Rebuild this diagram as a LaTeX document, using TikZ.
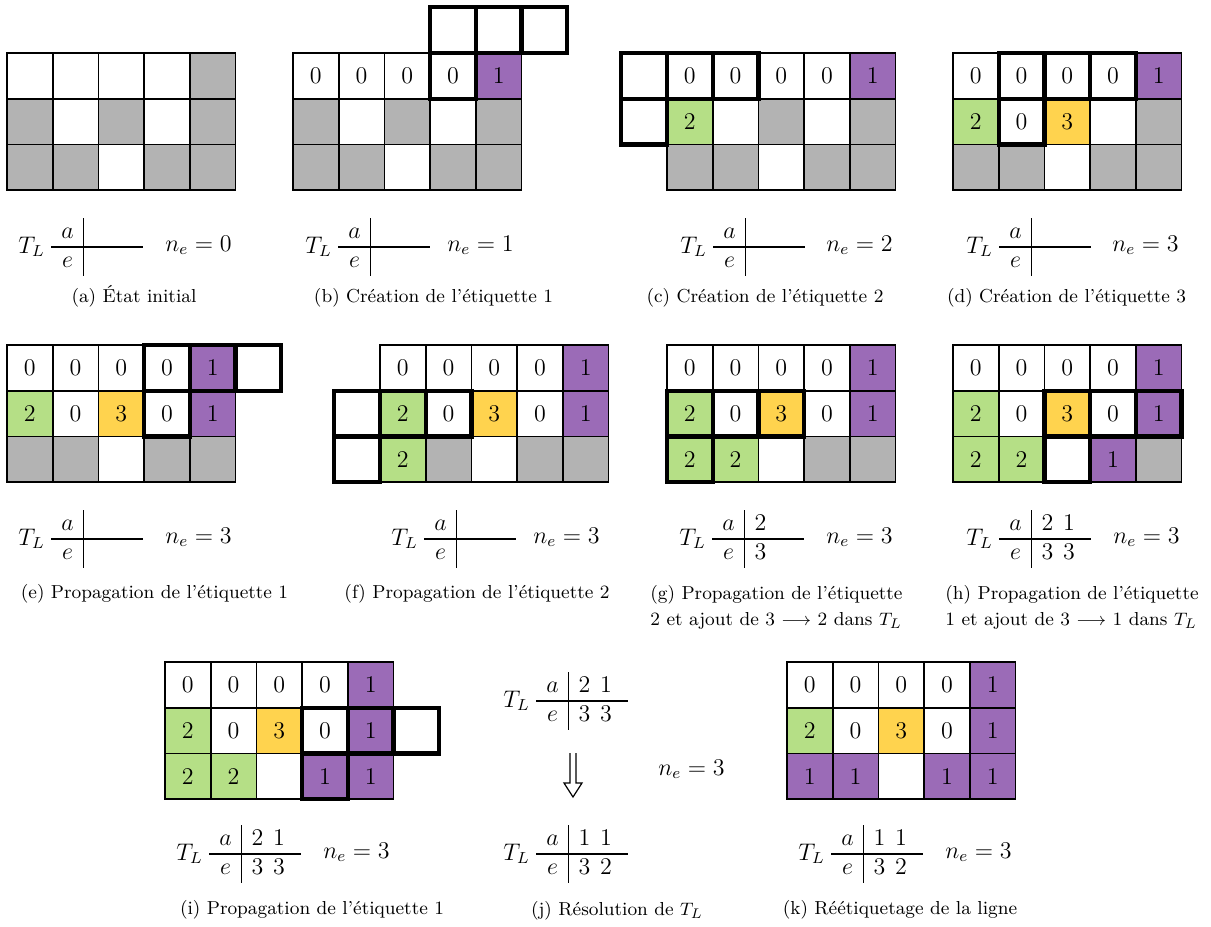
\documentclass[tikz,border=0pt]{standalone}
\usepackage{fontspec}
\usepackage{amsmath}
\usepackage{tikz}
\usetikzlibrary{calc,positioning}
\definecolor{cw}{HTML}{FFFFFF}
\definecolor{cg}{HTML}{B3B3B3}
\definecolor{cv}{HTML}{9B6BB7}
\definecolor{ce}{HTML}{B5DF86}
\definecolor{cj}{HTML}{FFD34E}
\setlength{\arrayrulewidth}{0.6pt}

% une grille : nom, origine (coin haut gauche), lignes de cases (couleur + valeur)
\newcommand{\pas}{45.7}
\def\lirecase#1#2\relax{\def\coul{#1}\def\val{#2}}
\newcommand{\grille}[4]{%
  \gdef\ox{#2}\gdef\oy{#3}%
  \foreach \ligne [count=\nl] in {#4}{%
    \foreach \tok [count=\nc] in \ligne {%
      \expandafter\lirecase\tok\relax
      \node[case,fill=c\coul] (#1-\nl-\nc) at ({\ox+(\nc-0.5)*\pas},{\oy+(\nl-0.5)*\pas}) {\val};
    }%
  }%
}
\newcommand{\ajout}[3]{\node[case] (#1-#2-#3) at ({\ox+(#3-0.5)*\pas},{\oy+(#2-0.5)*\pas}) {};}
\newcommand{\voisin}[3]{\draw[epais] (#1-#2-#3.north west) rectangle (#1-#2-#3.south east);}
\newcommand{\droite}[1]{\makebox[19.5pt][l]{$#1$}}
\newcommand{\sep}{\hspace{4.8pt}}
\newcommand{\tablel}[5]{%
  \node[tl] (#1) at (#2-66,#3) {$T_L\;\begin{array}{c|l} a & \droite{#4}\\ \hline e & \droite{#5}\end{array}$};%
}

\begin{document}
\begin{tikzpicture}[x=0.5pt,y=-0.5pt,
  case/.style={draw,line width=0.9pt,minimum size=22.85pt,inner sep=0pt,outer sep=0pt,font=\large},
  epais/.style={line width=2.1pt},
  tl/.style={anchor=west,inner sep=0pt,font=\large},
  ne/.style={anchor=base west,inner sep=0pt,font=\large},
  legende/.style={anchor=base,inner sep=0pt,font=\fontsize{9.4}{12}\selectfont},
  fleche/.style={line width=0.6pt},
]
\useasboundingbox (0,0) rectangle (1211,927);

% (a)
\grille{a}{7}{53}{{w,w,w,w,g},{g,w,g,w,g},{g,g,w,g,g}}
\tablel{a-tl}{84}{247}{}{}
\node[ne] (a-ne) at (165,251) {$n_e = 0$};
\node[legende] (a-leg) at (134,302) {(a) État initial};

% (b)
\grille{b}{293}{53}{{w0,w0,w0,w0,v1},{g,w,g,w,g},{g,g,w,g,g}}
\ajout{b}{0}{4} \ajout{b}{0}{5} \ajout{b}{0}{6}
\foreach \i/\j in {0/4,0/5,0/6,1/4} {\voisin{b}{\i}{\j}}
\tablel{b-tl}{371}{247}{}{}
\node[ne] (b-ne) at (447,251) {$n_e = 1$};
\node[legende] (b-leg) at (433.5,302) {(b) Création de l’étiquette 1};

% (c)
\grille{c}{667}{53}{{w0,w0,w0,w0,v1},{e2,w,g,w,g},{g,g,w,g,g}}
\ajout{c}{1}{0} \ajout{c}{2}{0}
\foreach \i/\j in {1/0,1/1,1/2,2/0} {\voisin{c}{\i}{\j}}
\tablel{c-tl}{746}{247}{}{}
\node[ne] (c-ne) at (826,251) {$n_e = 2$};
\node[legende] (c-leg) at (765,302) {(c) Création de l’étiquette 2};

% (d)
\grille{d}{953}{53}{{w0,w0,w0,w0,v1},{e2,w0,j3,w,g},{g,g,w,g,g}}
\foreach \i/\j in {1/2,1/3,1/4,2/2} {\voisin{d}{\i}{\j}}
\tablel{d-tl}{1032}{247}{}{}
\node[ne] (d-ne) at (1112,251) {$n_e = 3$};
\node[legende] (d-leg) at (1066.5,302) {(d) Création de l’étiquette 3};

% (e)
\grille{e}{7}{345}{{w0,w0,w0,w0,v1},{e2,w0,j3,w0,v1},{g,g,w,g,g}}
\ajout{e}{1}{6}
\foreach \i/\j in {1/4,1/5,1/6,2/4} {\voisin{e}{\i}{\j}}
\tablel{e-tl}{84}{539}{}{}
\node[ne] (e-ne) at (165,543) {$n_e = 3$};
\node[legende] (e-leg) at (154.5,598) {(e) Propagation de l’étiquette 1};

% (f)
\grille{f}{380}{345}{{w0,w0,w0,w0,v1},{e2,w0,j3,w0,v1},{e2,g,w,g,g}}
\ajout{f}{2}{0} \ajout{f}{3}{0}
\foreach \i/\j in {2/0,2/1,2/2,3/0} {\voisin{f}{\i}{\j}}
\tablel{f-tl}{457}{539}{}{}
\node[ne] (f-ne) at (533,543) {$n_e = 3$};
\node[legende] (f-leg) at (477,598) {(f) Propagation de l’étiquette 2};

% (g)
\grille{g}{667}{345}{{w0,w0,w0,w0,v1},{e2,w0,j3,w0,v1},{e2,e2,w,g,g}}
\foreach \i/\j in {2/1,2/2,2/3,3/1} {\voisin{g}{\i}{\j}}
\tablel{g-tl}{745}{539}{2}{3}
\node[ne] (g-ne) at (826,543) {$n_e = 3$};
\node[legende,anchor=north west,align=left] (g-leg) at (650,584.5) {(g) Propagation de l’étiquette\\[1pt]2 et ajout de 3 $\longrightarrow$ 2 dans $T_L$};

% (h)
\grille{h}{953}{345}{{w0,w0,w0,w0,v1},{e2,w0,j3,w0,v1},{e2,e2,w,v1,g}}
\foreach \i/\j in {2/3,2/4,2/5,3/3} {\voisin{h}{\i}{\j}}
\tablel{h-tl}{1032}{539}{2\sep1}{3\sep3}
\node[ne] (h-ne) at (1113,543) {$n_e = 3$};
\node[legende,anchor=north west,align=left] (h-leg) at (945,584.5) {(h) Propagation de l’étiquette\\[1pt]1 et ajout de 3 $\longrightarrow$ 1 dans $T_L$};

% (i)
\grille{i}{165}{662}{{w0,w0,w0,w0,v1},{e2,w0,j3,w0,v1},{e2,e2,w,v1,v1}}
\ajout{i}{2}{6}
\foreach \i/\j in {2/4,2/5,2/6,3/4} {\voisin{i}{\i}{\j}}
\tablel{i-tl}{242}{854}{2\sep1}{3\sep3}
\node[ne] (i-ne) at (323,858) {$n_e = 3$};
\node[legende] (i-leg) at (312,914) {(i) Propagation de l’étiquette 1};

% (j)
\tablel{j-avant}{569}{701}{2\sep1}{3\sep3}
\tablel{j-apres}{569}{854}{1\sep1}{3\sep2}
\coordinate (j-fleche) at (573,753);
\draw[fleche] ($(j-fleche)+(-3,0)$) -- ++(0,30) -- ++(-6,0) -- ++(9,14) -- ++(9,-14) -- ++(-6,0) -- ++(0,-30);
\node[ne] (j-ne) at (658,775) {$n_e = 3$};
\node[legende] (j-leg) at (617,915) {(j) Résolution de $T_L$};

% (k)
\grille{k}{787}{662}{{w0,w0,w0,w0,v1},{e2,w0,j3,w0,v1},{v1,v1,w,v1,v1}}
\tablel{k-tl}{864}{854}{1\sep1}{3\sep2}
\node[ne] (k-ne) at (945,858) {$n_e = 3$};
\node[legende] (k-leg) at (900,914) {(k) Réétiquetage de la ligne};
\end{tikzpicture}
\end{document}
